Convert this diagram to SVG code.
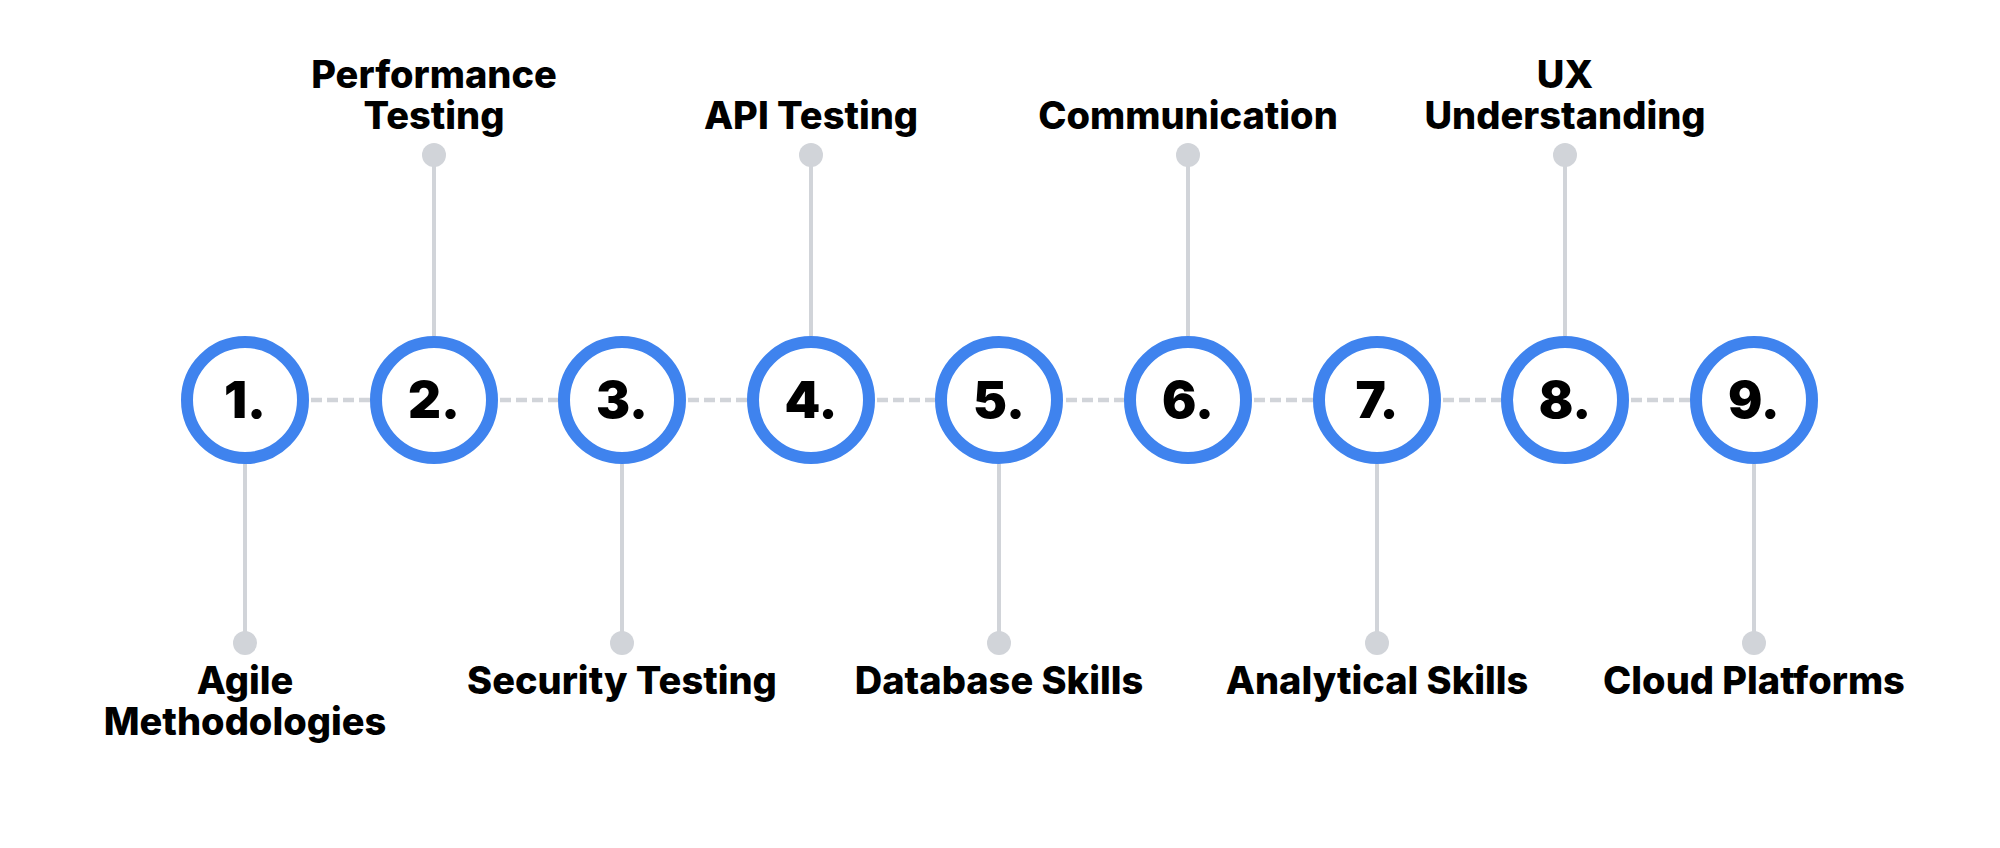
<svg xmlns="http://www.w3.org/2000/svg" width="2000" height="848" viewBox="0 0 2000 848">
<style>
.bg{fill:#ffffff}
.ring{fill:#ffffff;stroke:#3f83ee;stroke-width:12}
.num{font-family:Inter,"Liberation Sans",sans-serif;font-weight:900;font-size:51px;fill:#000;text-anchor:middle}
.lbl{font-family:Inter,"Liberation Sans",sans-serif;font-weight:800;font-size:38px;fill:#000;text-anchor:middle}
.dash{stroke:#d1d4d9;stroke-width:4.5;stroke-dasharray:11 5;fill:none}
.stem{stroke:#d1d4d9;stroke-width:4;fill:none}
.dot{fill:#d1d4d9}
</style>
<rect class="bg" x="0" y="0" width="2000" height="848"/>
<g id="connectors">
<line class="dash" x1="311" y1="400" x2="370" y2="400"/>
<line class="dash" x1="500" y1="400" x2="558" y2="400"/>
<line class="dash" x1="688" y1="400" x2="747" y2="400"/>
<line class="dash" x1="877" y1="400" x2="935" y2="400"/>
<line class="dash" x1="1066" y1="400" x2="1124" y2="400"/>
<line class="dash" x1="1254" y1="400" x2="1313" y2="400"/>
<line class="dash" x1="1443" y1="400" x2="1501" y2="400"/>
<line class="dash" x1="1631" y1="400" x2="1690" y2="400"/>
<line class="stem" x1="245" y1="464" x2="245" y2="643"/>
<circle class="dot" cx="245" cy="643" r="12"/>
<line class="stem" x1="434" y1="155" x2="434" y2="336"/>
<circle class="dot" cx="434" cy="155" r="12"/>
<line class="stem" x1="622" y1="464" x2="622" y2="643"/>
<circle class="dot" cx="622" cy="643" r="12"/>
<line class="stem" x1="811" y1="155" x2="811" y2="336"/>
<circle class="dot" cx="811" cy="155" r="12"/>
<line class="stem" x1="999" y1="464" x2="999" y2="643"/>
<circle class="dot" cx="999" cy="643" r="12"/>
<line class="stem" x1="1188" y1="155" x2="1188" y2="336"/>
<circle class="dot" cx="1188" cy="155" r="12"/>
<line class="stem" x1="1377" y1="464" x2="1377" y2="643"/>
<circle class="dot" cx="1377" cy="643" r="12"/>
<line class="stem" x1="1565" y1="155" x2="1565" y2="336"/>
<circle class="dot" cx="1565" cy="155" r="12"/>
<line class="stem" x1="1754" y1="464" x2="1754" y2="643"/>
<circle class="dot" cx="1754" cy="643" r="12"/>
</g>
<g id="node1">
<circle class="ring" cx="245" cy="400" r="58"/>
<text class="num" x="245" y="418">1.</text>
<text class="lbl" x="245" y="694">Agile</text>
<text class="lbl" x="245" y="735">Methodologies</text>
</g>
<g id="node2">
<circle class="ring" cx="434" cy="400" r="58"/>
<text class="num" x="434" y="418">2.</text>
<text class="lbl" x="434" y="88">Performance</text>
<text class="lbl" x="434" y="129">Testing</text>
</g>
<g id="node3">
<circle class="ring" cx="622" cy="400" r="58"/>
<text class="num" x="622" y="418">3.</text>
<text class="lbl" x="622" y="694">Security Testing</text>
</g>
<g id="node4">
<circle class="ring" cx="811" cy="400" r="58"/>
<text class="num" x="811" y="418">4.</text>
<text class="lbl" x="811" y="129">API Testing</text>
</g>
<g id="node5">
<circle class="ring" cx="999" cy="400" r="58"/>
<text class="num" x="999" y="418">5.</text>
<text class="lbl" x="999" y="694">Database Skills</text>
</g>
<g id="node6">
<circle class="ring" cx="1188" cy="400" r="58"/>
<text class="num" x="1188" y="418">6.</text>
<text class="lbl" x="1188" y="129">Communication</text>
</g>
<g id="node7">
<circle class="ring" cx="1377" cy="400" r="58"/>
<text class="num" x="1377" y="418">7.</text>
<text class="lbl" x="1377" y="694">Analytical Skills</text>
</g>
<g id="node8">
<circle class="ring" cx="1565" cy="400" r="58"/>
<text class="num" x="1565" y="418">8.</text>
<text class="lbl" x="1565" y="88">UX</text>
<text class="lbl" x="1565" y="129">Understanding</text>
</g>
<g id="node9">
<circle class="ring" cx="1754" cy="400" r="58"/>
<text class="num" x="1754" y="418">9.</text>
<text class="lbl" x="1754" y="694">Cloud Platforms</text>
</g>
</svg>
